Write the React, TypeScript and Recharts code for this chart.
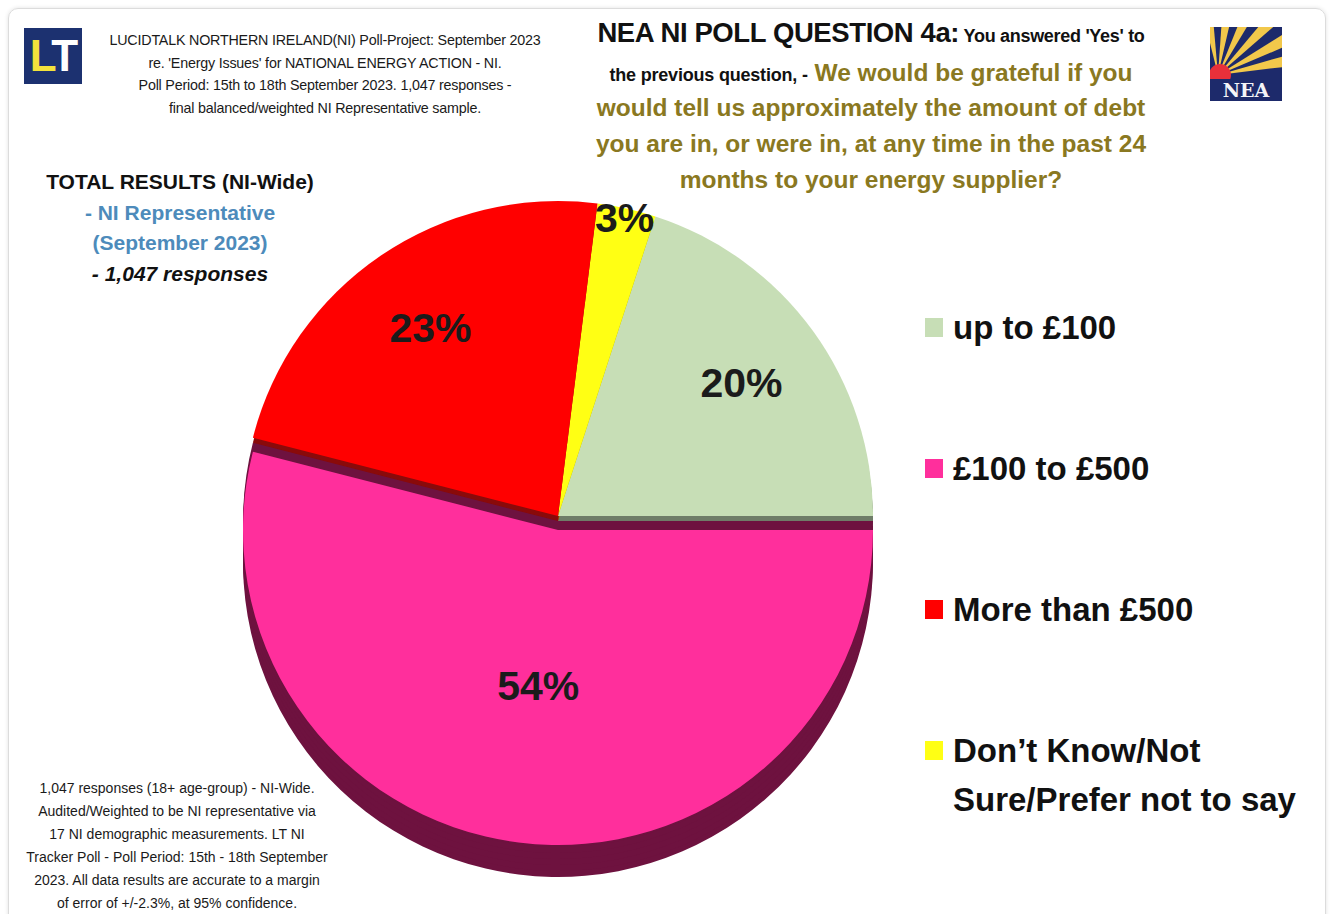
import { PieChart, Pie, Cell } from "recharts";

const categories = [
  "up to £100",
  "Don’t Know/Not\nSure/Prefer not to say",
  "More than £500",
  "£100 to £500",
];
const shares = [20, 3, 23, 54];
const topColors = ["#c7deb6", "#ffff14", "#ff0000", "#ff2f9c"];
const sideColors = ["#6f7d68", "#a3a300", "#8a0a0a", "#6e123f"];
const legendOrder = [0, 3, 2, 1];

const data = categories.map((name, i) => ({ name, value: shares[i] }));

const RADIAN = Math.PI / 180;
const CX = 553;
const CY = 511;
const R = 315;
const PINK = 3;
// extrusion steps for the 3d side of the pie
const DEPTH_STEPS = [46, 40, 34, 28, 22, 16, 10, 5];

// eslint-disable-next-line @typescript-eslint/no-explicit-any
const makeLabel = (only: (i: number) => boolean) => (props: any) => {
  const { cx, cy, midAngle, outerRadius, percent, index } = props;
  if (!only(index)) return null;
  const f = percent < 0.05 ? 0.97 : percent > 0.5 ? 0.5 : 0.72;
  const r = outerRadius * f;
  const x = cx + r * Math.cos(-midAngle * RADIAN);
  const y = cy + r * Math.sin(-midAngle * RADIAN);
  return (
    <text
      x={x}
      y={y}
      fill="#1b1b1b"
      textAnchor="middle"
      dominantBaseline="central"
      fontSize={41}
      fontWeight={700}
      fontFamily="'Liberation Sans', Arial, sans-serif"
    >
      {`${shares[index]}%`}
    </text>
  );
};

const sans = "'Liberation Sans', Arial, sans-serif";

function LtLogo() {
  return (
    <div
      style={{
        position: "absolute",
        left: 24,
        top: 28,
        width: 58,
        height: 56,
        background: "#1c3170",
        color: "#fff",
        fontFamily: sans,
        fontWeight: 700,
        fontSize: 44,
        lineHeight: "56px",
        textAlign: "center",
        letterSpacing: -2,
      }}
    >
      <span style={{ color: "#f3e23c" }}>L</span>T
    </div>
  );
}

function NeaLogo() {
  const rays = [100, 82, 64, 46, 28, 12];
  return (
    <svg
      style={{ position: "absolute", left: 1210, top: 27 }}
      width={72}
      height={74}
      viewBox="0 0 72 74"
    >
      <rect x={0} y={0} width={72} height={74} fill="#1d2a6b" />
      {rays.map((a, i) => (
        <polygon
          key={i}
          points={`8,48 ${8 + 90 * Math.cos((a - 5) * RADIAN)},${48 - 90 * Math.sin((a - 5) * RADIAN)} ${8 + 90 * Math.cos((a + 4) * RADIAN)},${48 - 90 * Math.sin((a + 4) * RADIAN)}`}
          fill="#f2c84b"
        />
      ))}
      <circle cx={10} cy={48} r={11} fill="#e8303a" />
      <rect x={0} y={52} width={72} height={22} fill="#1d2a6b" />
      <text
        x={36}
        y={70}
        textAnchor="middle"
        fontFamily="'DejaVu Serif', serif"
        fontWeight={700}
        fontSize={19}
        fill="#f4f4f8"
      >
        NEA
      </text>
    </svg>
  );
}

export default function App() {
  return (
    <div
      style={{
        position: "absolute",
        left: 0,
        top: 0,
        width: 1333,
        height: 914,
        background: "#fff",
        overflow: "hidden",
      }}
    >
      <div
        style={{
          position: "absolute",
          left: 8,
          top: 8,
          width: 1316,
          height: 920,
          border: "1px solid #dcdcdc",
          borderRadius: 10,
          boxShadow: "0 0 4px rgba(0,0,0,0.12)",
        }}
      />
      <PieChart
        width={1333}
        height={914}
        style={{ position: "absolute", left: 0, top: 0 }}
      >
        {DEPTH_STEPS.map((d) => (
          <Pie
            key={d}
            data={data}
            dataKey="value"
            cx={CX}
            cy={CY + d}
            outerRadius={R}
            startAngle={0}
            endAngle={360}
            stroke="none"
            isAnimationActive={false}
          >
            {data.map((_, i) => (
              <Cell key={i} fill={sideColors[i]} />
            ))}
          </Pie>
        ))}
        <Pie
          data={data}
          dataKey="value"
          cx={CX}
          cy={CY + 14}
          outerRadius={R}
          startAngle={0}
          endAngle={360}
          stroke="none"
          labelLine={false}
          label={makeLabel((i) => i === PINK)}
          isAnimationActive={false}
        >
          {data.map((_, i) => (
            <Cell key={i} fill={i === PINK ? topColors[i] : "none"} />
          ))}
        </Pie>
        <Pie
          data={data}
          dataKey="value"
          cx={CX}
          cy={CY}
          outerRadius={R}
          startAngle={0}
          endAngle={360}
          stroke="none"
          labelLine={false}
          label={makeLabel((i) => i !== PINK)}
          isAnimationActive={false}
        >
          {data.map((_, i) => (
            <Cell key={i} fill={i === PINK ? "none" : topColors[i]} />
          ))}
        </Pie>
      </PieChart>

      <LtLogo />
      <div
        style={{
          position: "absolute",
          left: 100,
          top: 29,
          width: 450,
          textAlign: "center",
          fontFamily: sans,
          fontSize: 14.3,
          lineHeight: "22.5px",
          letterSpacing: -0.2,
          color: "#1a1a1a",
        }}
      >
        LUCIDTALK NORTHERN IRELAND(NI) Poll-Project: September 2023
        <br />
        re. 'Energy Issues' for NATIONAL ENERGY ACTION - NI.
        <br />
        Poll Period: 15th to 18th September 2023. 1,047 responses -
        <br />
        final balanced/weighted NI Representative sample.
      </div>

      <div
        style={{
          position: "absolute",
          left: 560,
          top: 14,
          width: 622,
          textAlign: "center",
          fontFamily: sans,
          fontWeight: 700,
          color: "#8a7821",
        }}
      >
        <div style={{ height: 38, lineHeight: "38px", color: "#111" }}>
          <span style={{ fontSize: 27.5, letterSpacing: -0.4 }}>
            NEA NI POLL QUESTION 4a:
          </span>{" "}
          <span style={{ fontSize: 18, letterSpacing: -0.3 }}>
            You answered 'Yes' to
          </span>
        </div>
        <div style={{ height: 38, lineHeight: "42px", fontSize: 24.5 }}>
          <span style={{ fontSize: 18, color: "#111", letterSpacing: -0.2 }}>
            the previous question, -
          </span>{" "}
          We would be grateful if you
        </div>
        <div style={{ fontSize: 24.5, lineHeight: "36px" }}>
          would tell us approximately the amount of debt
          <br />
          you are in, or were in, at any time in the past 24
          <br />
          months to your energy supplier?
        </div>
      </div>
      <NeaLogo />

      <div
        style={{
          position: "absolute",
          left: 30,
          top: 167,
          width: 300,
          textAlign: "center",
          fontFamily: sans,
          fontWeight: 700,
          fontSize: 21,
          lineHeight: "30.5px",
        }}
      >
        <div style={{ color: "#111" }}>TOTAL RESULTS (NI-Wide)</div>
        <div style={{ color: "#4d8bbb" }}>- NI Representative</div>
        <div style={{ color: "#4d8bbb" }}>(September 2023)</div>
        <div style={{ color: "#111", fontStyle: "italic" }}>
          - 1,047 responses
        </div>
      </div>

      <div
        style={{
          position: "absolute",
          left: 14,
          top: 777,
          width: 326,
          textAlign: "center",
          fontFamily: sans,
          fontSize: 14,
          lineHeight: "23px",
          color: "#1a1a1a",
        }}
      >
        1,047 responses (18+ age-group) - NI-Wide.
        <br />
        Audited/Weighted to be NI representative via
        <br />
        17 NI demographic measurements. LT NI
        <br />
        Tracker Poll - Poll Period: 15th - 18th September
        <br />
        2023. All data results are accurate to a margin
        <br />
        of error of +/-2.3%, at 95% confidence.
      </div>

      {legendOrder.map((idx, k) => (
        <div
          key={idx}
          style={{
            position: "absolute",
            left: 925,
            top: 303 + k * 141,
            display: "flex",
            alignItems: "flex-start",
            fontFamily: sans,
            fontWeight: 700,
            fontSize: 33,
            lineHeight: "49px",
            color: "#111",
            whiteSpace: "pre-line",
          }}
        >
          <span
            style={{
              display: "inline-block",
              width: 18,
              height: 19,
              marginTop: 15,
              marginRight: 10,
              background: topColors[idx],
            }}
          />
          <span>{categories[idx]}</span>
        </div>
      ))}
    </div>
  );
}
